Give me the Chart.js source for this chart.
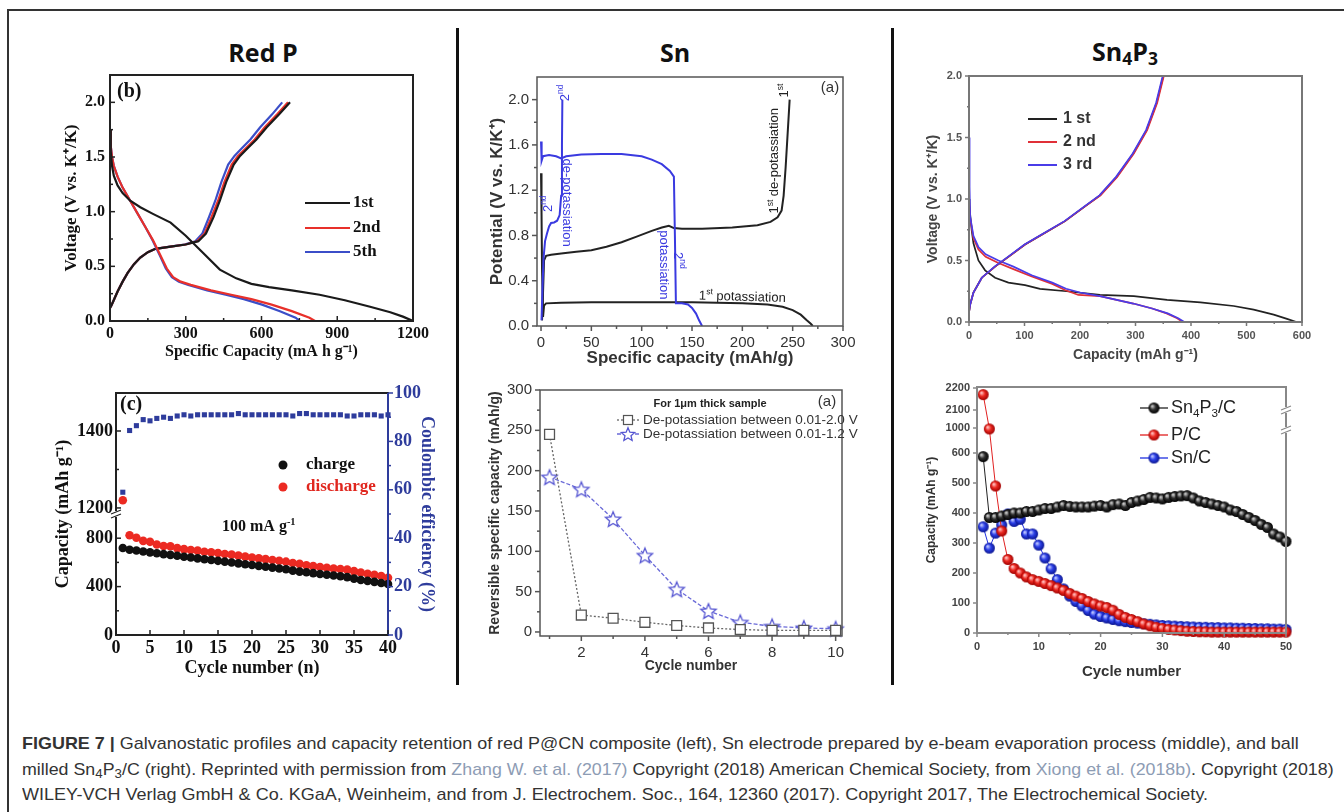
<!DOCTYPE html>
<html>
<head>
<meta charset="utf-8">
<script src="https://cdn.jsdelivr.net/npm/chart.js@4.4.1/dist/chart.umd.min.js"></script>
<style>
body{margin:0;background:#fff;width:1344px;height:812px;overflow:hidden;position:relative;font-family:"Liberation Sans",Arial,sans-serif}
canvas{position:absolute}
.ttl{position:absolute;font-family:"Open Sans",sans-serif;font-weight:700;font-size:25px;color:#111;transform:translate(-50%,-50%);white-space:nowrap}
.ttl sub{font-size:70%;vertical-align:-4px}
.rule{position:absolute;background:#333}
.cap{position:absolute;left:22px;white-space:nowrap;font-family:"Liberation Sans Narrow","Liberation Sans",Arial,sans-serif;font-size:17px;line-height:20px;color:#333;transform-origin:0 50%}
.cap sub{font-size:75%;vertical-align:-3px;line-height:0}
.cap .lnk{color:#8d9cb4}
</style>
</head>
<body>
<div class="rule" style="left:8px;top:9px;width:1336px;height:2px"></div>
<div class="rule" style="left:7px;top:9px;width:2px;height:803px"></div>
<div class="rule" style="left:456px;top:28px;width:3px;height:657px;background:#111"></div>
<div class="rule" style="left:891px;top:28px;width:3px;height:657px;background:#111"></div>

<div class="ttl" style="left:263px;top:52px">Red P</div>
<div class="ttl" style="left:675px;top:52px">Sn</div>
<div class="ttl" style="left:1125px;top:52px">Sn<sub>4</sub>P<sub>3</sub></div>

<canvas id="c1" width="420" height="300" style="left:20px;top:70px"></canvas>
<canvas id="c2" width="420" height="300" style="left:460px;top:70px"></canvas>
<canvas id="c3" width="440" height="300" style="left:900px;top:70px"></canvas>
<canvas id="c4" width="440" height="300" style="left:20px;top:380px"></canvas>
<canvas id="c5" width="420" height="310" style="left:460px;top:380px"></canvas>
<canvas id="c6" width="440" height="310" style="left:900px;top:380px"></canvas>

<div class="cap" id="l1" style="top:734px"><b>FIGURE 7 |</b> Galvanostatic profiles and capacity retention of red P@CN composite (left), Sn electrode prepared by e-beam evaporation process (middle), and ball</div>
<div class="cap" id="l2" style="top:760px">milled Sn<sub>4</sub>P<sub>3</sub>/C (right). Reprinted with permission from <span class="lnk">Zhang W. et al. (2017)</span> Copyright (2018) American Chemical Society, from <span class="lnk">Xiong et al. (2018b)</span>. Copyright (2018)</div>
<div class="cap" id="l3" style="top:785px">WILEY-VCH Verlag GmbH &amp; Co. KGaA, Weinheim, and from J. Electrochem. Soc., 164, 12360 (2017). Copyright 2017, The Electrochemical Society.</div>

<script>
const SERIF = '"Liberation Serif", "Times New Roman", serif';
const SANS = '"Liberation Sans", Arial, sans-serif';

// Red P voltage profiles (mA h/g, V)
const redP1stDisCap = [0, 3, 8, 15, 30, 50, 80, 120, 170, 240, 300, 370, 435, 500, 560, 630, 720, 830, 930, 1030, 1110, 1160, 1200];
const redP1stDisV = [1.75, 1.55, 1.42, 1.33, 1.24, 1.17, 1.10, 1.04, 0.98, 0.90, 0.78, 0.62, 0.47, 0.39, 0.34, 0.31, 0.28, 0.24, 0.19, 0.13, 0.08, 0.04, 0.0];
const redP2ndDisCap = [0, 3, 8, 15, 30, 50, 80, 110, 140, 170, 200, 225, 250, 280, 320, 400, 480, 560, 640, 720, 790, 812];
const redP5thDisCap = [0, 3, 8, 15, 30, 50, 80, 110, 140, 168, 197, 221, 245, 273, 310, 385, 458, 530, 602, 673, 735, 752];
const redPDisV = [1.75, 1.6, 1.5, 1.42, 1.32, 1.22, 1.1, 0.98, 0.86, 0.74, 0.6, 0.48, 0.40, 0.36, 0.33, 0.28, 0.24, 0.20, 0.15, 0.09, 0.03, 0.0];
const redP1stChgCap = [0, 5, 13, 30, 50, 70, 95, 120, 150, 180, 240, 300, 350, 380, 410, 435, 460, 490, 515, 545, 580, 620, 670, 713];
const redP2ndChgCap = [0, 5, 13, 30, 50, 70, 95, 120, 150, 180, 240, 300, 345, 375, 402, 428, 453, 482, 507, 538, 573, 612, 662, 705];
const redP5thChgCap = [0, 5, 13, 30, 50, 70, 95, 120, 150, 180, 238, 295, 338, 366, 392, 417, 441, 468, 493, 522, 556, 594, 642, 682];
const redPChgV = [0.12, 0.14, 0.18, 0.27, 0.36, 0.44, 0.52, 0.58, 0.63, 0.66, 0.68, 0.70, 0.73, 0.80, 0.95, 1.10, 1.27, 1.43, 1.51, 1.58, 1.66, 1.77, 1.89, 2.0];

// Sn potential profiles (mAh/g, V)
const sn1stPotCap = [0, 0.5, 1, 2, 3, 5, 20, 50, 100, 150, 200, 225, 240, 250, 258, 264, 268, 270];
const sn1stPotV = [1.35, 1.0, 0.5, 0.08, 0.18, 0.2, 0.205, 0.21, 0.21, 0.21, 0.2, 0.19, 0.17, 0.14, 0.1, 0.05, 0.02, 0.0];
const sn1stDepCap = [1, 2, 3, 5, 10, 20, 35, 50, 65, 80, 95, 110, 120, 127, 132, 140, 160, 190, 215, 228, 235, 239, 241, 243, 245, 247];
const sn1stDepV = [0.05, 0.3, 0.58, 0.62, 0.63, 0.64, 0.655, 0.67, 0.70, 0.74, 0.79, 0.84, 0.87, 0.885, 0.865, 0.86, 0.86, 0.87, 0.89, 0.92, 0.96, 1.02, 1.15, 1.4, 1.7, 2.0];
const sn2ndPotCap = [0, 0.6, 2, 8, 15, 20, 25, 40, 60, 80, 100, 110, 120, 128, 132, 133, 134, 140, 146, 150, 154, 157, 160];
const sn2ndPotV = [1.63, 1.46, 1.5, 1.51, 1.5, 1.48, 1.5, 1.515, 1.52, 1.52, 1.5, 1.47, 1.43, 1.37, 1.32, 0.8, 0.2, 0.2, 0.19, 0.16, 0.11, 0.05, 0.0];
const sn2ndDepCap = [0.5, 1.5, 2.5, 4, 6, 8, 10, 13, 16, 18.5, 20, 20.8, 21.2];
const sn2ndDepV = [0.05, 0.35, 0.6, 0.75, 0.82, 0.88, 0.91, 0.915, 0.93, 0.98, 1.15, 1.6, 2.0];

// Sn4P3 voltage profiles (mAh/g, V)
const sp1stDisCap = [0, 1, 2, 5, 8, 17, 29, 47, 71, 101, 128, 176, 236, 297, 357, 417, 477, 513, 549, 573, 590];
const sp1stDisV = [1.0, 0.95, 0.88, 0.74, 0.64, 0.5, 0.42, 0.36, 0.32, 0.3, 0.27, 0.25, 0.22, 0.21, 0.18, 0.16, 0.13, 0.1, 0.06, 0.025, 0.0];
const sp2ndDisCap = [0, 2, 8, 17, 30, 53, 80, 113, 150, 173, 197, 236, 296, 330, 356, 375, 385];
const sp2ndDisV = [1.0, 0.85, 0.68, 0.59, 0.53, 0.48, 0.43, 0.37, 0.31, 0.26, 0.22, 0.21, 0.15, 0.11, 0.07, 0.03, 0.0];
const sp3rdDisCap = [0, 1, 2, 8, 17, 30, 53, 80, 113, 150, 175, 200, 236, 296, 330, 358, 377, 388];
const sp3rdDisV = [1.5, 1.1, 0.86, 0.7, 0.61, 0.55, 0.5, 0.45, 0.38, 0.32, 0.27, 0.24, 0.21, 0.15, 0.11, 0.07, 0.03, 0.0];
const sp1stChgCap = [0, 2, 8, 23, 47, 71, 101, 131, 173, 209, 236, 266, 296, 320, 338, 350];
const sp2ndChgCap = [0, 2, 8, 23, 47, 71, 101, 131, 173, 209, 237, 267, 297, 321, 339, 351];
const sp3rdChgCap = [0, 2, 8, 23, 46, 70, 100, 130, 172, 208, 235, 265, 295, 319, 337, 349];
const spChgV = [0.08, 0.14, 0.24, 0.36, 0.45, 0.53, 0.63, 0.71, 0.82, 0.94, 1.03, 1.18, 1.37, 1.56, 1.78, 2.0];

// Red P cycling, cycles 1..40
const rpCharge = [719, 705, 698, 690, 683, 676, 668, 662, 655, 647, 640, 633, 626, 620, 613, 606, 599, 592, 585, 578, 571, 564, 557, 550, 543, 532, 524, 518, 511, 504, 498, 492, 486, 478, 466, 455, 447, 439, 430, 421];
const rpDischarge = [1220, 840, 805, 778, 770, 748, 735, 733, 718, 710, 703, 697, 688, 684, 678, 670, 664, 656, 648, 640, 633, 627, 620, 614, 606, 595, 588, 576, 569, 562, 556, 549, 545, 540, 528, 516, 506, 497, 487, 473];
const rpCE = [59, 84.5, 86.5, 89, 88.5, 89.5, 90, 89.5, 90.5, 91, 90.5, 91, 91, 91, 91, 91, 91, 91.5, 91, 91, 91, 91, 91, 91, 91, 90.5, 91.5, 91.5, 91, 91, 91, 91, 91, 90.5, 90.5, 91, 91, 91, 90.5, 91];
const rpCapTicks = [0, 400, 800, 1200, 1400];

// Sn cycling, cycles 1..10
const snDep20 = [245, 21, 17, 12, 8, 5, 3, 2, 2, 2];
const snDep12 = [192, 177, 140, 95, 53, 26, 12, 7, 5, 4];

// Sn4P3 cycling, cycles 1..50
const spSn4P3C = [588, 385, 385, 390, 395, 400, 400, 405, 405, 410, 415, 415, 420, 425, 422, 420, 420, 420, 423, 425, 420, 428, 430, 425, 435, 440, 445, 452, 450, 447, 452, 455, 457, 458, 450, 440, 435, 430, 425, 420, 410, 405, 395, 385, 375, 362, 352, 330, 320, 305];
const spPC = [2170, 985, 490, 340, 245, 215, 200, 187, 178, 172, 165, 158, 150, 142, 132, 123, 115, 105, 97, 90, 85, 76, 62, 52, 45, 38, 30, 24, 19, 15, 12, 10, 8, 6, 5, 4, 4, 3, 3, 3, 3, 3, 3, 3, 3, 3, 3, 3, 3, 3];
const spSnC = [354, 283, 333, 360, 397, 372, 379, 330, 330, 293, 250, 214, 178, 147, 123, 105, 90, 75, 63, 55, 50, 45, 41, 38, 35, 33, 31, 29, 27, 25, 24, 23, 22, 21, 20, 19, 19, 18, 18, 17, 17, 16, 16, 15, 15, 14, 14, 13, 13, 12];
const spCapTicks = [0, 100, 200, 300, 400, 500, 600, 1000, 2100, 2200];

// broken axes: capacity -> axis units
function brokenAxis(caps, pos) {
    return v => {
        let i = 1;
        while (i < caps.length - 1 && v > caps[i]) i++;
        return pos[i - 1] + (v - caps[i - 1]) * (pos[i] - pos[i - 1]) / (caps[i] - caps[i - 1]);
    };
}
const rpMap = brokenAxis([0, 800, 1200, 1400], [0, 40, 52.5, 84.3]);
const spMap = brokenAxis([0, 600, 1000, 2100, 2200], [0, 180, 205, 223, 245]);

// text with ^sup^ and _sub_
function rich(ctx, str, x, y, f, color, align, rot) {
    const segs = [];
    const re = /\^([^^]+)\^|_([^_]+)_|([^^_]+)/g;
    let m;
    while ((m = re.exec(str))) segs.push(m[1] ? {t: m[1], k: 1} : m[2] ? {t: m[2], k: -1} : {t: m[3], k: 0});
    const fnt = k => (f.w || 'normal') + ' ' + (k ? f.s * 0.65 : f.s) + 'px ' + f.fam;
    let w = 0;
    segs.forEach(s => { ctx.font = fnt(s.k); s.w = ctx.measureText(s.t).width; w += s.w; });
    ctx.save();
    ctx.translate(x, y);
    if (rot) ctx.rotate(rot);
    let cx = align === 'center' ? -w / 2 : align === 'right' ? -w : 0;
    ctx.fillStyle = color;
    ctx.textBaseline = 'middle';
    ctx.textAlign = 'left';
    segs.forEach(s => {
        ctx.font = fnt(s.k);
        ctx.fillText(s.t, cx, s.k === 1 ? -f.s * 0.32 : s.k === -1 ? f.s * 0.3 : 0);
        cx += s.w;
    });
    ctx.restore();
}

const framePlugin = {
    id: 'frame',
    afterDraw(chart, args, o) {
        if (!o.color) return;
        const ctx = chart.ctx, a = chart.chartArea;
        ctx.save();
        ctx.strokeStyle = o.color;
        ctx.lineWidth = o.width;
        ctx.strokeRect(a.left, a.top, a.right - a.left, a.bottom - a.top);
        if (o.rightColor) {
            ctx.strokeStyle = o.rightColor;
            ctx.beginPath(); ctx.moveTo(a.right, a.top); ctx.lineTo(a.right, a.bottom); ctx.stroke();
        }
        Object.entries(o.ticks || {}).forEach(([id, t]) => {
            const s = chart.scales[id];
            ctx.strokeStyle = t.color || o.color;
            ctx.lineWidth = t.width || 1.5;
            const draw = (vals, len) => vals.forEach(v => {
                const p = s.getPixelForValue(v);
                ctx.beginPath();
                if (s.isHorizontal()) {
                    ctx.moveTo(p, a.bottom);
                    ctx.lineTo(p, a.bottom + (t.dir === 'in' ? -len : len));
                } else {
                    const right = s.position === 'right';
                    const x0 = right ? a.right : a.left;
                    const out = right ? 1 : -1;
                    ctx.moveTo(x0, p);
                    ctx.lineTo(x0 + (t.dir === 'in' ? -out * len : out * len), p);
                }
                ctx.stroke();
            });
            draw(s.ticks.map(k => k.value), t.len || 5);
            if (t.minor) draw(t.minor, t.mlen || 3);
        });
        (o.breaks || []).forEach(b => {
            const s = chart.scales[b.axis];
            const p = s.getPixelForValue(b.value);
            const x0 = b.side === 'right' ? a.right : a.left;
            ctx.fillStyle = '#fff';
            ctx.fillRect(x0 - 3, p - 3, 6, 6);
            ctx.strokeStyle = b.color || o.color;
            ctx.lineWidth = 1.2;
            ctx.beginPath();
            ctx.moveTo(x0 - 5, p); ctx.lineTo(x0 + 5, p - 4);
            ctx.moveTo(x0 - 5, p + 4); ctx.lineTo(x0 + 5, p);
            ctx.stroke();
        });
        ctx.restore();
    }
};

const notesPlugin = {
    id: 'notes',
    afterDatasetsDraw(chart, args, o) {
        const xs = chart.scales.x, ys = chart.scales.y;
        (o.items || []).forEach(n => {
            rich(chart.ctx, n.text, xs.getPixelForValue(n.x), ys.getPixelForValue(n.y), n.font, n.color, 'center', n.rot || 0);
        });
    }
};

const keyPlugin = {
    id: 'key',
    afterDraw(chart, args, o) {
        const ctx = chart.ctx;
        (o.items || []).forEach(it => {
            ctx.save();
            if (it.line) {
                ctx.strokeStyle = it.line.color;
                ctx.lineWidth = it.line.w;
                ctx.setLineDash(it.line.dash || []);
                ctx.beginPath(); ctx.moveTo(it.line.x1, it.y); ctx.lineTo(it.line.x2, it.y); ctx.stroke();
                ctx.setLineDash([]);
            }
            if (it.img) ctx.drawImage(it.img, it.px - it.img.width / 2, it.y - it.img.height / 2);
            if (it.dot) {
                ctx.fillStyle = it.dot.color;
                ctx.beginPath(); ctx.arc(it.px, it.y, it.dot.r, 0, 2 * Math.PI); ctx.fill();
            }
            if (it.sq) {
                ctx.fillStyle = '#fff';
                ctx.strokeStyle = it.sq.color;
                ctx.lineWidth = 1.2;
                ctx.fillRect(it.px - it.sq.h, it.y - it.sq.h, 2 * it.sq.h, 2 * it.sq.h);
                ctx.strokeRect(it.px - it.sq.h, it.y - it.sq.h, 2 * it.sq.h, 2 * it.sq.h);
            }
            if (it.text) rich(ctx, it.text, it.x, it.y, it.font, it.color, it.align || 'left', 0);
            ctx.restore();
        });
    }
};

Chart.register(framePlugin, notesPlugin, keyPlugin);
Chart.defaults.animation = false;

// marker images
function ball(r, light, base, dark) {
    const c = document.createElement('canvas');
    c.width = c.height = 2 * r + 2;
    const g = c.getContext('2d');
    g.translate(r + 1, r + 1);
    const grad = g.createRadialGradient(-r * 0.35, -r * 0.35, r * 0.1, 0, 0, r);
    grad.addColorStop(0, light);
    grad.addColorStop(0.45, base);
    grad.addColorStop(1, dark);
    g.fillStyle = grad;
    g.beginPath(); g.arc(0, 0, r, 0, 2 * Math.PI); g.fill();
    return c;
}
function starImg(r, color) {
    const c = document.createElement('canvas');
    const s = Math.ceil(2 * r + 4);
    c.width = c.height = s;
    const g = c.getContext('2d');
    g.translate(s / 2, s / 2 + 0.8);
    g.beginPath();
    for (let i = 0; i < 10; i++) {
        const ang = -Math.PI / 2 + i * Math.PI / 5;
        const rr = i % 2 ? r * 0.45 : r;
        g.lineTo(rr * Math.cos(ang), rr * Math.sin(ang));
    }
    g.closePath();
    g.fillStyle = '#fff'; g.fill();
    g.strokeStyle = color; g.lineWidth = 1.3; g.stroke();
    return c;
}
const ballK = ball(5.5, '#c8c8c8', '#303030', '#000');
const ballR = ball(5.5, '#ffc0c0', '#ec2a22', '#a00000');
const ballB = ball(5.5, '#c0c8ff', '#2c40e8', '#0a1590');
const star = starImg(8, '#5656d2');
const starSmall = starImg(7, '#5656d2');

function ax(pos, o) {
    const horiz = pos === 'bottom';
    return {
        type: 'linear', position: pos, min: o.min, max: o.max,
        grid: {display: false, drawTicks: false}, border: {display: false},
        afterBuildTicks: s => { s.ticks = o.ticks.map(v => ({value: o.map ? o.map(v) : v})); },
        ticks: {font: o.font, color: o.color, padding: o.pad, autoSkip: false, maxRotation: 0,
            callback: (v, i) => o.fmt(o.ticks[i])},
        title: {display: true, text: o.title, font: o.tfont, color: o.tcolor || o.color,
            padding: horiz ? {top: 0, bottom: o.tpad} : {top: o.tpad, bottom: 0}},
        afterFit: s => {
            if (horiz) s.height = o.size; else s.width = o.size;
            s.paddingLeft = s.paddingRight = s.paddingTop = s.paddingBottom = 0;
        }
    };
}
function baseOpts(pad, scales, plugins) {
    return {
        responsive: false, animation: false, events: [],
        layout: {padding: pad},
        scales: scales,
        plugins: Object.assign({legend: {display: false}, tooltip: {enabled: false}}, plugins)
    };
}
const curve = (xs, ys, color, w) => ({
    data: xs.map((x, i) => ({x: x, y: ys[i]})), showLine: true, borderColor: color,
    borderWidth: w, pointRadius: 0, fill: false, tension: 0
});
const f1 = v => v.toFixed(1);

// ---- Red P profiles ----
const RP_K = '#1a1a1a', RP_R = '#e8302a', RP_B = '#3b4ec8';
const sf = (s, w) => ({family: SERIF, size: s, weight: w || 'bold'});
new Chart(document.getElementById('c1'), {
    type: 'scatter',
    data: {datasets: [
        curve(redP5thChgCap, redPChgV, RP_B, 2.2),
        curve(redP2ndChgCap, redPChgV, RP_R, 2.2),
        curve(redP1stChgCap, redPChgV, RP_K, 2.2),
        curve(redP5thDisCap, redPDisV, RP_B, 2.2),
        curve(redP2ndDisCap, redPDisV, RP_R, 2.2),
        curve(redP1stDisCap, redP1stDisV, RP_K, 2.2)
    ].reverse()},
    options: baseOpts({top: 5, right: 27, left: 0, bottom: 0}, {
        x: ax('bottom', {min: 0, max: 1200, ticks: [0, 300, 600, 900, 1200], fmt: String, font: sf(16), color: '#111', pad: 3,
            title: 'Specific Capacity (mA h g\u207B\u00B9)', tfont: sf(16), tpad: 8.4, size: 49}),
        y: ax('left', {min: 0, max: 2.25, ticks: [0, 0.5, 1, 1.5, 2], fmt: f1, font: sf(16), color: '#111', pad: 5,
            title: 'Voltage (V vs. K\u207A/K)', tfont: sf(17), tpad: 41.8, size: 90})
    }, {
        frame: {color: '#222', width: 2, ticks: {
            x: {dir: 'in', len: 5, minor: [150, 450, 750, 1050]},
            y: {dir: 'in', len: 5, minor: [0.25, 0.75, 1.25, 1.75]}}},
        key: {items: [
            {text: '(b)', x: 97, y: 22, font: {s: 20, w: 'bold', fam: SERIF}, color: '#111'},
            {line: {x1: 285, x2: 330, color: RP_K, w: 2.2}, y: 133, text: '1st', x: 333, font: {s: 17, w: 'bold', fam: SERIF}, color: '#111'},
            {line: {x1: 285, x2: 330, color: RP_R, w: 2.2}, y: 158, text: '2nd', x: 333, font: {s: 17, w: 'bold', fam: SERIF}, color: '#111'},
            {line: {x1: 285, x2: 330, color: RP_B, w: 2.2}, y: 182, text: '5th', x: 333, font: {s: 17, w: 'bold', fam: SERIF}, color: '#111'}
        ]}
    })
});

// ---- Sn profiles ----
const SN_K = '#222', SN_B = '#3a3ae0';
const ns = (s, w) => ({family: SANS, size: s, weight: w || 'normal'});
const noteF = {s: 13, fam: SANS};
new Chart(document.getElementById('c2'), {
    type: 'scatter',
    data: {datasets: [
        curve(sn2ndDepCap, sn2ndDepV, SN_B, 2),
        curve(sn2ndPotCap, sn2ndPotV, SN_B, 2),
        curve(sn1stDepCap, sn1stDepV, SN_K, 2),
        curve(sn1stPotCap, sn1stPotV, SN_K, 2)
    ]},
    options: baseOpts({top: 7, right: 37, left: 0, bottom: 0}, {
        x: ax('bottom', {min: -4, max: 300, ticks: [0, 50, 100, 150, 200, 250, 300], fmt: String, font: ns(15), color: '#333', pad: 8,
            title: 'Specific capacity (mAh/g)', tfont: ns(17, 'bold'), tpad: 1.8, size: 44}),
        y: ax('left', {min: 0, max: 2.2, ticks: [0, 0.4, 0.8, 1.2, 1.6, 2.0], fmt: f1, font: ns(15), color: '#333', pad: 8,
            title: 'Potential (V vs. K/K\u207A)', tfont: ns(17, 'bold'), tpad: 26.8, size: 77})
    }, {
        frame: {color: '#555', width: 1.5, ticks: {
            x: {dir: 'out', len: 5, minor: [25, 75, 125, 175, 225, 275], mlen: 3},
            y: {dir: 'out', len: 5, minor: [0.2, 0.6, 1.0, 1.4, 1.8], mlen: 3}}},
        notes: {items: [
            {text: '2^nd^', x: 24, y: 2.06, rot: -Math.PI / 2, font: noteF, color: SN_B},
            {text: '2^nd^', x: 7, y: 1.08, rot: -Math.PI / 2, font: noteF, color: SN_B},
            {text: 'de-potassiation', x: 25.5, y: 1.09, rot: Math.PI / 2, font: noteF, color: SN_B},
            {text: 'potassiation', x: 121.5, y: 0.54, rot: Math.PI / 2, font: noteF, color: SN_B},
            {text: '2^nd^', x: 136, y: 0.58, rot: Math.PI / 2, font: noteF, color: SN_B},
            {text: '1^st^ de-potassiation', x: 232, y: 1.46, rot: -Math.PI / 2, font: noteF, color: SN_K},
            {text: '1^st^', x: 242, y: 2.08, rot: -Math.PI / 2, font: noteF, color: SN_K},
            {text: '1^st^ potassiation', x: 200, y: 0.255, rot: 0.03, font: noteF, color: SN_K}
        ]},
        key: {items: [{text: '(a)', x: 370, y: 18, font: {s: 15, fam: SANS}, color: '#333', align: 'center'}]}
    })
});

// ---- Sn4P3 profiles ----
const SP_K = '#222', SP_R = '#e03038', SP_B = '#4a3ce8';
new Chart(document.getElementById('c3'), {
    type: 'scatter',
    data: {datasets: [
        curve(sp3rdChgCap, spChgV, SP_B, 1.7),
        curve(sp2ndChgCap, spChgV, SP_R, 1.7),
        curve(sp1stChgCap, spChgV, SP_K, 1.7),
        curve(sp3rdDisCap, sp3rdDisV, SP_B, 1.7),
        curve(sp2ndDisCap, sp2ndDisV, SP_R, 1.7),
        curve(sp1stDisCap, sp1stDisV, SP_K, 1.7)
    ]},
    options: baseOpts({top: 6, right: 38, left: 0, bottom: 0}, {
        x: ax('bottom', {min: 0, max: 600, ticks: [0, 100, 200, 300, 400, 500, 600], fmt: String, font: ns(11, 'bold'), color: '#555', pad: 7,
            title: 'Capacity (mAh g\u207B\u00B9)', tfont: ns(14, 'bold'), tcolor: '#444', tpad: 6.6, size: 48}),
        y: ax('left', {min: 0, max: 2, ticks: [0, 0.5, 1, 1.5, 2], fmt: f1, font: ns(11, 'bold'), color: '#555', pad: 7,
            title: 'Voltage (V vs. K\u207A/K)', tfont: ns(14, 'bold'), tcolor: '#444', tpad: 24.6, size: 69})
    }, {
        frame: {color: '#777', width: 2, ticks: {
            x: {dir: 'out', len: 4, minor: [50, 150, 250, 350, 450, 550], mlen: 2},
            y: {dir: 'out', len: 4, minor: [0.25, 0.75, 1.25, 1.75], mlen: 2}}},
        key: {items: [
            {line: {x1: 128, x2: 157, color: SP_K, w: 2}, y: 49, text: '1 st', x: 163, font: {s: 16, w: 'bold', fam: SANS}, color: '#333'},
            {line: {x1: 128, x2: 157, color: SP_R, w: 2}, y: 72, text: '2 nd', x: 163, font: {s: 16, w: 'bold', fam: SANS}, color: '#333'},
            {line: {x1: 128, x2: 157, color: SP_B, w: 2}, y: 95, text: '3 rd', x: 163, font: {s: 16, w: 'bold', fam: SANS}, color: '#333'}
        ]}
    })
});

// ---- Red P cycling ----
const CE_BLUE = '#2e3c9c';
new Chart(document.getElementById('c4'), {
    type: 'scatter',
    data: {datasets: [
        {data: rpCharge.map((v, i) => ({x: i + 1, y: rpMap(v)})), yAxisID: 'y', pointRadius: 4.3, pointBackgroundColor: '#111', pointBorderWidth: 0, clip: false},
        {data: rpDischarge.map((v, i) => ({x: i + 1, y: rpMap(v)})), yAxisID: 'y', pointRadius: 4.3, pointBackgroundColor: '#ec2a22', pointBorderWidth: 0, clip: false},
        {data: rpCE.map((v, i) => ({x: i + 1, y: v})), yAxisID: 'y1', pointStyle: 'rect', pointRadius: 3.6, pointBackgroundColor: CE_BLUE, pointBorderWidth: 0, clip: false}
    ]},
    options: baseOpts({top: 13, right: 0, left: 0, bottom: 0}, {
        x: ax('bottom', {min: 0, max: 40, ticks: [0, 5, 10, 15, 20, 25, 30, 35, 40], fmt: String, font: sf(18), color: '#111', pad: 3,
            title: 'Cycle number (n)', tfont: sf(18), tpad: 1, size: 45}),
        y: ax('left', {min: 0, max: 100, ticks: rpCapTicks, map: rpMap, fmt: String, font: sf(18), color: '#111', pad: 3,
            title: 'Capacity (mAh g\u207B\u00B9)', tfont: sf(18), tpad: 32.2, size: 96}),
        y1: ax('right', {min: 0, max: 100, ticks: [0, 20, 40, 60, 80, 100], fmt: String, font: sf(18), color: CE_BLUE, pad: 6,
            title: 'Coulombic efficiency (%)', tfont: sf(18), tpad: 22.2, size: 72})
    }, {
        frame: {color: '#222', width: 2, rightColor: CE_BLUE, ticks: {
            x: {dir: 'in', len: 5},
            y: {dir: 'in', len: 5, minor: [rpMap(200), rpMap(600), rpMap(1300)]},
            y1: {dir: 'out', len: 5, color: CE_BLUE, minor: [10, 30, 50, 70, 90]}},
            breaks: [{axis: 'y', value: 50, side: 'left'}]},
        key: {items: [
            {text: '(c)', x: 100, y: 25, font: {s: 20, w: 'bold', fam: SERIF}, color: '#111'},
            {dot: {r: 4.5, color: '#111'}, px: 263, y: 85, text: 'charge', x: 286, font: {s: 17, w: 'bold', fam: SERIF}, color: '#111'},
            {dot: {r: 4.5, color: '#ec2a22'}, px: 263, y: 107, text: 'discharge', x: 286, font: {s: 17, w: 'bold', fam: SERIF}, color: '#e0261e'},
            {text: '100 mA g^-1^', x: 202, y: 147, font: {s: 16, w: 'bold', fam: SERIF}, color: '#111'}
        ]}
    })
});

// ---- Sn cycling ----
const SQ_GREY = '#555', ST_BLUE = '#5a5ad4';
new Chart(document.getElementById('c5'), {
    type: 'scatter',
    data: {datasets: [
        {data: snDep20.map((v, i) => ({x: i + 1, y: v})), showLine: true, borderColor: '#666', borderWidth: 1.3, borderDash: [2, 2],
            pointStyle: 'rect', pointRadius: 7, pointBackgroundColor: '#fff', pointBorderColor: SQ_GREY, pointBorderWidth: 1.3, clip: false},
        {data: snDep12.map((v, i) => ({x: i + 1, y: v})), showLine: true, borderColor: '#6a6ad8', borderWidth: 1.3, borderDash: [4, 2],
            pointStyle: star, pointRadius: 8, clip: false}
    ]},
    options: baseOpts({top: 10, right: 38, left: 0, bottom: 0}, {
        x: ax('bottom', {min: 0.7, max: 10.2, ticks: [2, 4, 6, 8, 10], fmt: String, font: ns(15), color: '#333', pad: 8,
            title: 'Cycle number', tfont: ns(14, 'bold'), tpad: 15.6, size: 54}),
        y: ax('left', {min: -5, max: 300, ticks: [0, 50, 100, 150, 200, 250, 300], fmt: String, font: ns(15), color: '#333', pad: 8,
            title: 'Reversible specific capacity (mAh/g)', tfont: ns(14, 'bold'), tpad: 26.6, size: 80})
    }, {
        frame: {color: '#555', width: 1.5, ticks: {
            x: {dir: 'out', len: 5, minor: [1, 3, 5, 7, 9], mlen: 3},
            y: {dir: 'out', len: 5, minor: [25, 75, 125, 175, 225, 275], mlen: 3}}},
        key: {items: [
            {text: '(a)', x: 367, y: 22, font: {s: 15, fam: SANS}, color: '#333', align: 'center'},
            {text: 'For 1\u03BCm thick sample', x: 250, y: 24, font: {s: 11, w: 'bold', fam: SANS}, color: '#222', align: 'center'},
            {line: {x1: 157, x2: 180, color: '#666', w: 1.3, dash: [2, 2]}, sq: {h: 4.5, color: SQ_GREY}, px: 168, y: 40,
                text: 'De-potassiation between 0.01-2.0 V', x: 183, font: {s: 13.5, fam: SANS}, color: '#333'},
            {line: {x1: 157, x2: 180, color: '#6a6ad8', w: 1.3, dash: [4, 2]}, img: starSmall, px: 168, y: 54,
                text: 'De-potassiation between 0.01-1.2 V', x: 183, font: {s: 13.5, fam: SANS}, color: '#333'}
        ]}
    })
});

// ---- Sn4P3 cycling ----
new Chart(document.getElementById('c6'), {
    type: 'scatter',
    data: {datasets: [
        {data: spSn4P3C.map((v, i) => ({x: i + 1, y: spMap(v)})), showLine: true, borderColor: '#222', borderWidth: 1, pointStyle: ballK, clip: false},
        {data: spPC.map((v, i) => ({x: i + 1, y: spMap(v)})), showLine: true, borderColor: '#e02020', borderWidth: 1, pointStyle: ballR, clip: false},
        {data: spSnC.map((v, i) => ({x: i + 1, y: spMap(v)})), showLine: true, borderColor: '#2030e0', borderWidth: 1, pointStyle: ballB, clip: false}
    ]},
    options: baseOpts({top: 7, right: 54, left: 0, bottom: 0}, {
        x: ax('bottom', {min: 0, max: 50, ticks: [0, 10, 20, 30, 40, 50], fmt: String, font: ns(11, 'bold'), color: '#444', pad: 7,
            title: 'Cycle number', tfont: ns(15, 'bold'), tcolor: '#333', tpad: 9, size: 57}),
        y: ax('left', {min: 0, max: 246, ticks: spCapTicks, map: spMap, fmt: String, font: ns(11, 'bold'), color: '#444', pad: 7,
            title: 'Capacity (mAh g\u207B\u00B9)', tfont: ns(12, 'bold'), tcolor: '#333', tpad: 24.8, size: 77})
    }, {
        frame: {color: '#888', width: 2, ticks: {
            x: {dir: 'out', len: 4, minor: [5, 15, 25, 35, 45], mlen: 2},
            y: {dir: 'out', len: 4}},
            breaks: [{axis: 'y', value: 223, side: 'right'}, {axis: 'y', value: 203, side: 'right'}]},
        key: {items: [
            {line: {x1: 240, x2: 268, color: '#222', w: 1.3}, img: ballK, px: 254, y: 28, text: 'Sn_4_P_3_/C', x: 271, font: {s: 18, fam: SANS}, color: '#222'},
            {line: {x1: 240, x2: 268, color: '#e02020', w: 1.3}, img: ballR, px: 254, y: 55, text: 'P/C', x: 271, font: {s: 18, fam: SANS}, color: '#222'},
            {line: {x1: 240, x2: 268, color: '#2030e0', w: 1.3}, img: ballB, px: 254, y: 78, text: 'Sn/C', x: 271, font: {s: 18, fam: SANS}, color: '#222'}
        ]}
    })
});

// caption lines stretched to the reference line widths
const capWidths = {l1: 1277, l2: 1312, l3: 1186};
Object.keys(capWidths).forEach(id => {
    const el = document.getElementById(id);
    el.style.transform = 'scaleX(' + (capWidths[id] / el.offsetWidth) + ')';
});
</script>
</body>
</html>
